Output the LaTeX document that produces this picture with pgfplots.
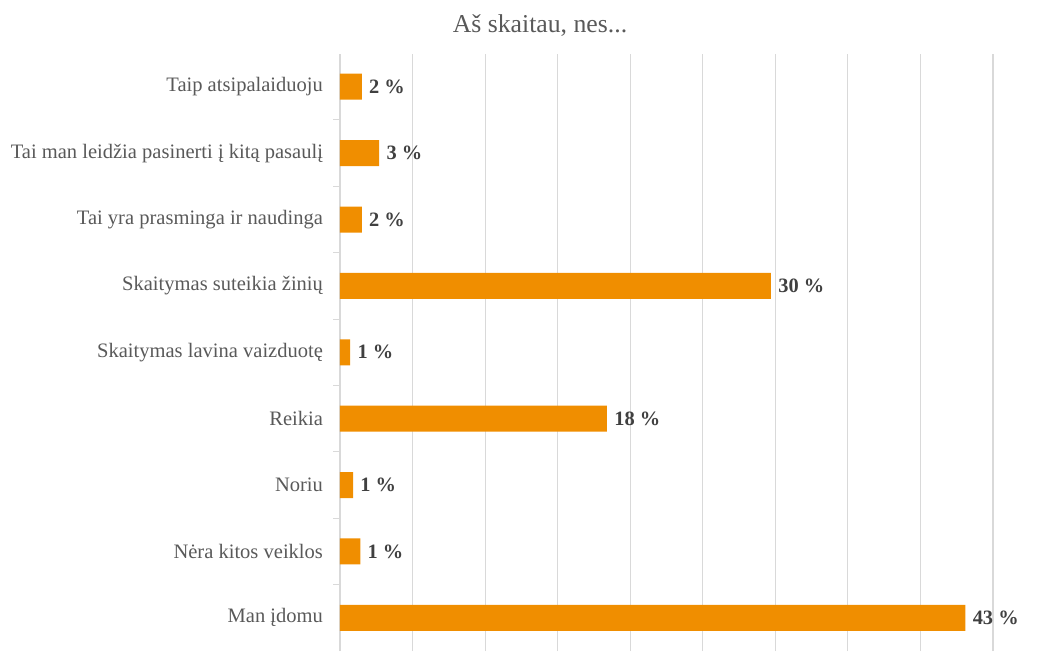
\documentclass[border=0pt]{standalone}
\usepackage{pgfplots}
\pgfplotsset{compat=1.18}
\usepackage{fontspec}
\setmainfont{Liberation Serif}
\definecolor{barc}{RGB}{240,142,0}
\definecolor{txt}{RGB}{89,89,89}
\definecolor{lbl}{RGB}{64,64,64}
\definecolor{gridc}{RGB}{217,217,217}
\begin{document}
\begin{tikzpicture}
\path[use as bounding box] (-255pt,0pt) rectangle (531.75pt,488.25pt);
\begin{axis}[
  at={(0pt,0pt)}, anchor=south west,
  scale only axis,
  width=493pt, height=448.1pt,
  xmin=0, xmax=45.3, ymin=-0.5, ymax=8.5,
  xbar, bar width=19.5pt,
  axis line style={draw=none},
  xtick={0,5,...,45}, xticklabels={}, xmajorgrids,
  major x tick style={draw=none},
  major grid style={gridc, line width=0.8pt},
  ytick={0,...,8},
  yticklabels={{Man įdomu~},{Nėra kitos veiklos},{Noriu},{Reikia},{Skaitymas lavina vaizduotę},{Skaitymas suteikia žinių},{Tai yra prasminga ir naudinga},{Tai man leidžia pasinerti į kitą pasaulį},{Taip atsipalaiduoju}},
  major y tick style={draw=none},
  minor ytick={0.5,1.5,...,7.5},
  minor y tick style={gridc, line width=0.8pt},
  minor tick length=5pt,
  tick align=outside,
  ytick pos=left,
  yticklabel style={font=\fontsize{15.4pt}{18pt}\selectfont, text=txt, xshift=-5pt},
  nodes near coords,
  point meta=explicit symbolic,
  nodes near coords style={anchor=west, font=\fontsize{15.3pt}{18pt}\selectfont\bfseries, text=lbl, xshift=2pt},
  clip=false,
]
\addplot[fill=barc, draw=none] coordinates {
  (43.1,0) [43 \%]
  (1.4,1) [1 \%]
  (0.9,2) [1 \%]
  (18.4,3) [18 \%]
  (0.7,4) [1 \%]
  (29.7,5) [30 \%]
  (1.5,6) [2 \%]
  (2.7,7) [3 \%]
  (1.5,8) [2 \%]
};
\end{axis}
\node[anchor=base, text=txt, font=\fontsize{19.3pt}{23pt}\selectfont] at (150pt,463.5pt) {Aš skaitau, nes...};
\end{tikzpicture}
\end{document}
